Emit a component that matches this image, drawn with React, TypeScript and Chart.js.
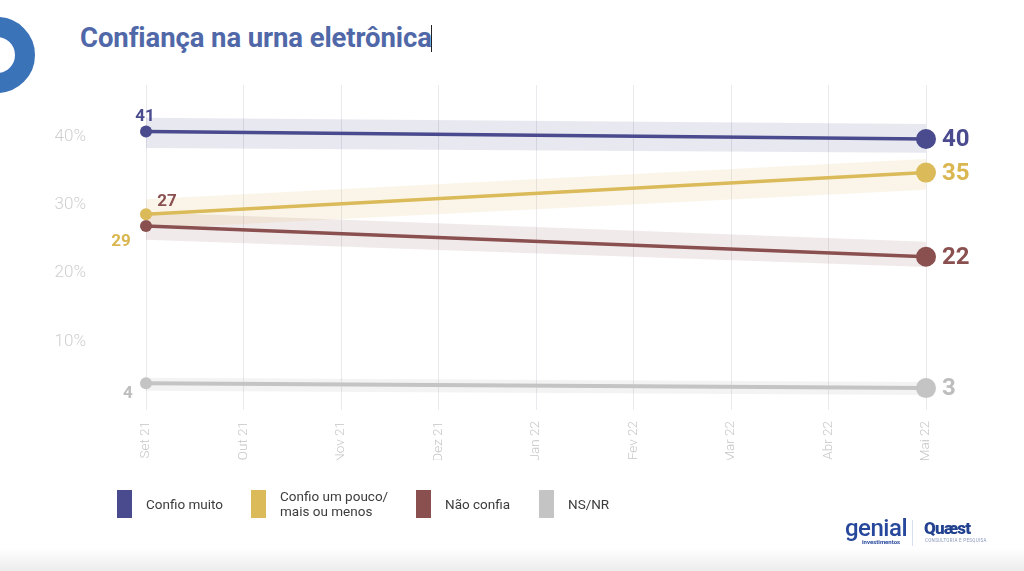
import React, { useEffect, useRef } from "react";
import { Chart, registerables } from "chart.js";

Chart.register(...registerables);

// ---------- DATA ----------
const categories = ["Set 21", "Out 21", "Nov 21", "Dez 21", "Jan 22", "Fev 22", "Mar 22", "Abr 22", "Mai 22"];
const seriesNames = ["Confio muito", "Confio um pouco/\nmais ou menos", "Não confia", "NS/NR"];

const confioMuito = [40.7, null, null, null, null, null, null, null, 39.6];
const confioPouco = [28.6, null, null, null, null, null, null, null, 34.7];
const naoConfia = [26.9, null, null, null, null, null, null, null, 22.4];
const nsnr = [3.9, null, null, null, null, null, null, null, 3.2];

const confioMuitoUpper = [42.7, null, null, null, null, null, null, null, 41.8];
const confioMuitoLower = [38.3, null, null, null, null, null, null, null, 37.6];
const confioPoucoUpper = [30.8, null, null, null, null, null, null, null, 36.7];
const confioPoucoLower = [26.5, null, null, null, null, null, null, null, 32.2];
const naoConfiaUpper = [28.9, null, null, null, null, null, null, null, 24.6];
const naoConfiaLower = [24.9, null, null, null, null, null, null, null, 20.9];
const nsnrUpper = [4.7, null, null, null, null, null, null, null, 4.1];
const nsnrLower = [2.8, null, null, null, null, null, null, null, 2.2];

const yTicks = [10, 20, 30, 40];

// ---------- STYLE ----------
const colors = ["#4a4a8e", "#dbba5a", "#8a5050", "#c4c4c4"];
const labelColors = ["#4a4a8e", "#d9b650", "#8a5050", "#bdbdbd"];
const bandColors = [
  "rgba(74,74,142,0.13)",
  "rgba(219,186,90,0.14)",
  "rgba(138,80,80,0.12)",
  "rgba(170,170,170,0.14)",
];
// left label offsets relative to first point
const leftOffsets = [
  [-1, -15, "center"],
  [-25, 27, "center"],
  [21, -24, "center"],
  [-18, 10, "center"],
];

const lineSeries = [confioMuito, confioPouco, naoConfia, nsnr];
const upperSeries = [confioMuitoUpper, confioPoucoUpper, naoConfiaUpper, nsnrUpper];
const lowerSeries = [confioMuitoLower, confioPoucoLower, naoConfiaLower, nsnrLower];

const labelPlugin = {
  id: "endLabels",
  afterDatasetsDraw(chart: any) {
    const ctx = chart.ctx;
    ctx.save();
    ctx.textBaseline = "middle";
    for (let i = 0; i < lineSeries.length; i++) {
      const meta = chart.getDatasetMeta(i);
      const data = lineSeries[i];
      const first = meta.data[0];
      const last = meta.data[data.length - 1];
      const vFirst = Math.round(data[0] as number);
      const vLast = Math.round(data[data.length - 1] as number);
      ctx.fillStyle = labelColors[i];
      ctx.font = "bold 17px Roboto";
      ctx.textAlign = leftOffsets[i][2];
      ctx.fillText(String(vFirst), first.x + (leftOffsets[i][0] as number), first.y + (leftOffsets[i][1] as number));
      ctx.font = "bold 24px Roboto";
      ctx.textAlign = "left";
      ctx.fillText(String(vLast), last.x + 16, last.y + 1);
    }
    ctx.restore();
  },
};

export default function App() {
  const canvasRef = useRef<HTMLCanvasElement>(null);

  useEffect(() => {
    const n = categories.length;
    const radii = categories.map((_, i) => (i === 0 ? 6 : i === n - 1 ? 10 : 0));
    const lineDatasets = lineSeries.map((d, i) => ({
      label: seriesNames[i],
      data: d,
      borderColor: colors[i],
      backgroundColor: colors[i],
      borderWidth: i === 3 ? 4 : 3.5,
      pointRadius: radii,
      pointHoverRadius: radii,
      pointBorderWidth: 0,
      spanGaps: true,
      tension: 0,
      fill: false,
    }));
    const bandDatasets: any[] = [];
    upperSeries.forEach((u, i) => {
      bandDatasets.push({
        label: "upper" + i,
        data: u,
        borderWidth: 0,
        borderColor: "rgba(0,0,0,0)",
        backgroundColor: bandColors[i],
        pointRadius: 0,
        spanGaps: true,
        tension: 0,
        fill: "+1",
      });
      bandDatasets.push({
        label: "lower" + i,
        data: lowerSeries[i],
        borderWidth: 0,
        borderColor: "rgba(0,0,0,0)",
        backgroundColor: "rgba(0,0,0,0)",
        pointRadius: 0,
        spanGaps: true,
        tension: 0,
        fill: false,
      });
    });

    const chart = new Chart(canvasRef.current as HTMLCanvasElement, {
      type: "line",
      data: { labels: categories, datasets: [...lineDatasets, ...bandDatasets] },
      options: {
        responsive: false,
        animation: false,
        layout: { padding: { left: 0, right: 98, top: 85, bottom: 111 } },
        plugins: {
          legend: { display: false },
          tooltip: { enabled: false },
          filler: { drawTime: "beforeDatasetsDraw" },
        },
        scales: {
          x: {
            offset: false,
            grid: { display: true, color: "#e9e9ee", lineWidth: 1, drawTicks: false },
            border: { display: false },
            ticks: {
              maxRotation: 90,
              minRotation: 90,
              padding: 11,
              color: "#c6c6c6",
              font: { family: "Roboto", size: 13.5, weight: "300" },
            },
            afterFit: (s: any) => {
              s.height = 50;
            },
          },
          y: {
            min: 0,
            max: 47.5,
            grid: { display: false, drawTicks: false },
            border: { display: false },
            ticks: {
              stepSize: 10,
              padding: 60,
              color: "#cfcfcf",
              font: { family: "Roboto", size: 17, weight: "300" },
              callback: (v: any) => (yTicks.includes(v) ? v + "%" : ""),
            },
            afterFit: (s: any) => {
              s.width = 146;
            },
          },
        },
      } as any,
      plugins: [labelPlugin],
    });
    return () => chart.destroy();
  }, []);

  const legendX = [
    [117, 146],
    [251, 280],
    [416, 445],
    [539, 568],
  ];

  return (
    <div
      style={{
        position: "fixed",
        left: 0,
        top: 0,
        width: 1024,
        height: 571,
        background: "#ffffff",
        overflow: "hidden",
        fontFamily: "Roboto, sans-serif",
      }}
    >
      {/* logo ring */}
      <div
        style={{
          position: "absolute",
          left: -41,
          top: 17,
          width: 36,
          height: 36,
          borderRadius: "50%",
          border: "20px solid #3b73b9",
        }}
      />
      {/* title */}
      <div
        style={{
          position: "absolute",
          left: 80,
          top: 21,
          fontSize: 27.5,
          lineHeight: "34px",
          fontWeight: 700,
          color: "#5068a8",
          letterSpacing: -0.1,
          whiteSpace: "nowrap",
        }}
      >
        Confiança na urna eletrônica
      </div>
      <div style={{ position: "absolute", left: 431, top: 25, width: 1, height: 27, background: "#222" }} />

      <canvas ref={canvasRef} width={1024} height={571} style={{ position: "absolute", left: 0, top: 0 }} />

      {/* legend */}
      {seriesNames.map((name, i) => (
        <React.Fragment key={i}>
          <div
            style={{
              position: "absolute",
              left: legendX[i][0],
              top: 490,
              width: 15,
              height: 28,
              background: colors[i],
            }}
          />
          <div
            style={{
              position: "absolute",
              left: legendX[i][1],
              top: 504,
              transform: "translateY(-50%)",
              fontSize: 13.5,
              lineHeight: "15px",
              color: "#3c3c3c",
              whiteSpace: "pre",
            }}
          >
            {name}
          </div>
        </React.Fragment>
      ))}

      {/* footer logos */}
      <div style={{ position: "absolute", left: 845, top: 516, color: "#26479b", fontSize: 24, fontWeight: 500, letterSpacing: -0.5, lineHeight: "24px" }}>
        genial
      </div>
      <div style={{ position: "absolute", left: 862, top: 538, color: "#26479b", fontSize: 6, fontWeight: 700 }}>investimentos</div>
      <div style={{ position: "absolute", left: 912, top: 520, width: 1, height: 26, background: "#d5dff0" }} />
      <div style={{ position: "absolute", left: 924, top: 519, color: "#22418f", fontSize: 17, fontWeight: 900, letterSpacing: -0.8, lineHeight: "18px" }}>
        Quæst
      </div>
      <div style={{ position: "absolute", left: 925, top: 538, color: "#8a98b8", fontSize: 4.5, letterSpacing: 0.3 }}>
        CONSULTORIA E PESQUISA
      </div>
      {/* bottom fade */}
      <div
        style={{
          position: "absolute",
          left: 0,
          top: 548,
          width: 1024,
          height: 23,
          background: "linear-gradient(#ffffff, #ececec)",
        }}
      />
    </div>
  );
}
